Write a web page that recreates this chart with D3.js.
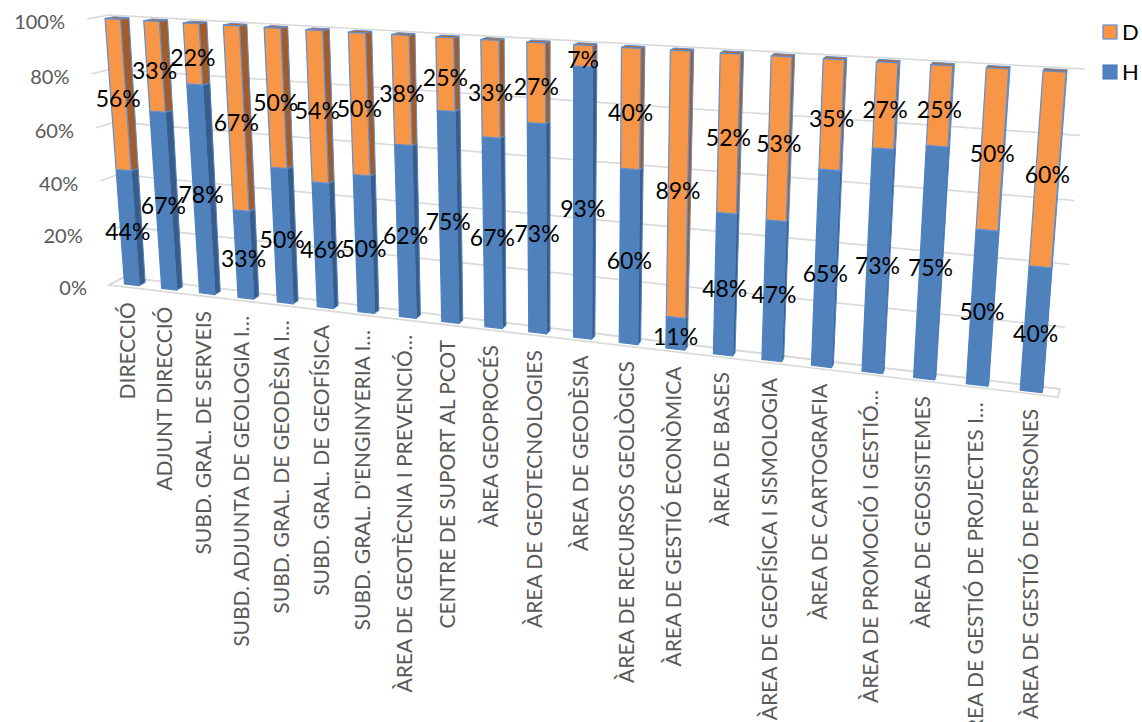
<!DOCTYPE html>
<html>
<head>
<meta charset="utf-8">
<script src="https://cdn.jsdelivr.net/npm/d3@7"></script>
<style>
  body { margin: 0; background: #fff; }
  svg { display: block; font-family: Lato, "Open Sans", sans-serif; }
</style>
</head>
<body>
<svg></svg>
<script>
// categories (x axis), as they read on the chart
var categories = [
  "DIRECCIÓ",
  "ADJUNT DIRECCIÓ",
  "SUBD. GRAL. DE SERVEIS",
  "SUBD. ADJUNTA DE GEOLOGIA I…",
  "SUBD. GRAL. DE GEODÈSIA I…",
  "SUBD. GRAL. DE GEOFÍSICA",
  "SUBD. GRAL. D'ENGINYERIA I…",
  "ÀREA DE GEOTÈCNIA I PREVENCIÓ…",
  "CENTRE DE SUPORT AL PCOT",
  "ÀREA GEOPROCÉS",
  "ÀREA DE GEOTECNOLOGIES",
  "ÀREA DE GEODÈSIA",
  "ÀREA DE RECURSOS GEOLÒGICS",
  "ÀREA DE GESTIÓ ECONÒMICA",
  "ÀREA DE BASES",
  "ÀREA DE GEOFÍSICA I SISMOLOGIA",
  "ÀREA DE CARTOGRAFIA",
  "ÀREA DE PROMOCIÓ I GESTIÓ…",
  "ÀREA DE GEOSISTEMES",
  "ÀREA DE GESTIÓ DE PROJECTES I…",
  "ÀREA DE GESTIÓ DE PERSONES"
];

// share of each group, in %
var valuesH = [44, 67, 78, 33, 50, 46, 50, 62, 75, 67, 73, 93, 60, 11, 48, 47, 65, 73, 75, 50, 40];
var valuesD = [56, 33, 22, 67, 50, 54, 50, 38, 25, 33, 27, 7, 40, 89, 52, 53, 35, 27, 25, 50, 60];

var seriesKeys = ["H", "D"];          // stacking order, bottom first
var legendKeys = ["D", "H"];          // legend order, top first
var tickValues = [0, 20, 40, 60, 80, 100];

var svgWidth = 1142, svgHeight = 722;

var colors = {
  H: { front: "#4f81bd", side: "#385d8a", top: "#41699c", stroke: "#4f81bd" },
  D: { front: "#f79646", side: "#a35c28", top: "#b8692e", stroke: "#5b8fd6" }
};

var svg = d3.select("svg")
  .attr("width", svgWidth)
  .attr("height", svgHeight);

// ---- perspective: back wall corners + depth offset to the front of the floor
// order: (u=0,v=0), (u=1,v=0), (u=1,v=1), (u=0,v=1)
var wallCorners = [[124, 277], [1060, 389], [1085, 69], [109, 15]];
var depthVecs = [[-15, 8], [-2, 8], [-2, 6], [-22, 4]];

function homography(p0, p1, p2, p3) {
  var dx1 = p1[0] - p2[0], dx2 = p3[0] - p2[0], dx3 = p0[0] - p1[0] + p2[0] - p3[0];
  var dy1 = p1[1] - p2[1], dy2 = p3[1] - p2[1], dy3 = p0[1] - p1[1] + p2[1] - p3[1];
  var det = dx1 * dy2 - dx2 * dy1;
  var g = (dx3 * dy2 - dx2 * dy3) / det;
  var h = (dx1 * dy3 - dx3 * dy1) / det;
  var a = p1[0] - p0[0] + g * p1[0], b = p3[0] - p0[0] + h * p3[0], c = p0[0];
  var d = p1[1] - p0[1] + g * p1[1], e = p3[1] - p0[1] + h * p3[1], f = p0[1];
  return function (u, v) {
    var w = g * u + h * v + 1;
    return [(a * u + b * v + c) / w, (d * u + e * v + f) / w];
  };
}

var wallH = homography.apply(null, wallCorners);

// u: category axis 0..1, v: value 0..1, w: depth 0 (back wall) .. 1 (front of floor)
function proj(u, v, w) {
  var p = wallH(u, v);
  var dx = (1 - u) * (1 - v) * depthVecs[0][0] + u * (1 - v) * depthVecs[1][0] + u * v * depthVecs[2][0] + (1 - u) * v * depthVecs[3][0];
  var dy = (1 - u) * (1 - v) * depthVecs[0][1] + u * (1 - v) * depthVecs[1][1] + u * v * depthVecs[2][1] + (1 - u) * v * depthVecs[3][1];
  return [p[0] + w * dx, p[1] + w * dy];
}

var x = d3.scaleBand()
  .domain(categories)
  .range([0, 1])
  .paddingInner(0.6)
  .paddingOuter(0.3);

var y = d3.scaleLinear()
  .domain([0, 100])
  .range([0, 1]);

var barFront = 0.7, barBack = 0.3;

var line = d3.line();

// ---- gridlines (side wall + back wall)
var grid = svg.append("g")
  .attr("fill", "none")
  .attr("stroke", "#d9d9d9")
  .attr("stroke-width", 1.6);

tickValues.forEach(function (t) {
  grid.append("path")
    .attr("d", line([proj(0, y(t), 1), proj(0, y(t), 0), proj(1, y(t), 0)]));
});

// floor outline
grid.append("path")
  .attr("d", line([proj(0, 0, 0), proj(1, 0, 0), proj(1, 0, 1), proj(0, 0, 1)]) + "Z");

// ---- y tick labels
svg.append("g")
  .selectAll("text")
  .data(tickValues)
  .enter()
  .append("text")
  .attr("x", function (d) { return proj(0, y(d), 1)[0] - 22; })
  .attr("y", function (d) { return proj(0, y(d), 1)[1] + 3; })
  .attr("dy", "0.35em")
  .attr("text-anchor", "end")
  .attr("fill", "#595959")
  .attr("font-size", 20)
  .text(function (d) { return d + "%"; });

// ---- bars
var rows = categories.map(function (c, i) {
  return { cat: c, H: valuesH[i], D: valuesD[i] };
});
var stacked = d3.stack().keys(seriesKeys)(rows);

function poly(pts) { return line(pts) + "Z"; }

var bars = svg.append("g");

categories.forEach(function (c, i) {
  var u0 = x(c), u1 = x(c) + x.bandwidth();
  var g = bars.append("g");
  stacked.forEach(function (s, si) {
    var seg = s[i];
    var v0 = y(seg[0]), v1 = y(seg[1]);
    if (v1 <= v0) return;
    var col = colors[s.key];
    var isTop = si === stacked.length - 1 || seg[1] >= 100;
    // right side
    g.append("path")
      .attr("d", poly([proj(u1, v0, barFront), proj(u1, v0, barBack), proj(u1, v1, barBack), proj(u1, v1, barFront)]))
      .attr("fill", col.side)
      .attr("stroke", col.stroke)
      .attr("stroke-width", 1)
      .attr("stroke-linejoin", "round");
    if (isTop) {
      g.append("path")
        .attr("d", poly([proj(u0, v1, barFront), proj(u1, v1, barFront), proj(u1, v1, barBack), proj(u0, v1, barBack)]))
        .attr("fill", col.top)
        .attr("stroke", col.stroke)
        .attr("stroke-width", 1)
        .attr("stroke-linejoin", "round");
    }
    // front
    g.append("path")
      .attr("d", poly([proj(u0, v0, barFront), proj(u1, v0, barFront), proj(u1, v1, barFront), proj(u0, v1, barFront)]))
      .attr("fill", col.front)
      .attr("stroke", col.stroke)
      .attr("stroke-width", 1.2)
      .attr("stroke-linejoin", "round");
  });
});

// ---- data labels
var labels = svg.append("g")
  .attr("font-size", 23)
  .attr("fill", "#000")
  .attr("text-anchor", "middle");

stacked.forEach(function (s) {
  s.forEach(function (seg, i) {
    var c = categories[i];
    var p = proj(x(c) + x.bandwidth() / 2, y((seg[0] + seg[1]) / 2), barFront);
    labels.append("text")
      .attr("x", p[0])
      .attr("y", p[1] + 4)
      .attr("dy", "0.35em")
      .text((seg[1] - seg[0]) + "%");
  });
});

// ---- category labels (vertical)
svg.append("g")
  .selectAll("text")
  .data(categories)
  .enter()
  .append("text")
  .attr("transform", function (d) {
    var p = proj(x(d) + x.bandwidth() / 2, 0, 1);
    return "translate(" + p[0] + "," + (p[1] + 15) + ") rotate(-90)";
  })
  .attr("dy", "0.35em")
  .attr("text-anchor", "end")
  .attr("fill", "#595959")
  .attr("font-size", 21)
  .text(function (d) { return d; });

// ---- legend
var legend = svg.append("g")
  .attr("transform", "translate(1103, 25)");

var item = legend.selectAll("g")
  .data(legendKeys)
  .enter()
  .append("g")
  .attr("transform", function (d, i) { return "translate(0," + i * 40 + ")"; });

item.append("rect")
  .attr("width", 14)
  .attr("height", 14)
  .attr("fill", function (d) { return colors[d].front; })
  .attr("stroke", function (d) { return colors[d].stroke; })
  .attr("stroke-width", 1.2);

item.append("text")
  .attr("x", 19)
  .attr("y", 7)
  .attr("dy", "0.35em")
  .attr("font-size", 22)
  .attr("fill", "#000")
  .text(function (d) { return d; });
</script>
</body>
</html>
